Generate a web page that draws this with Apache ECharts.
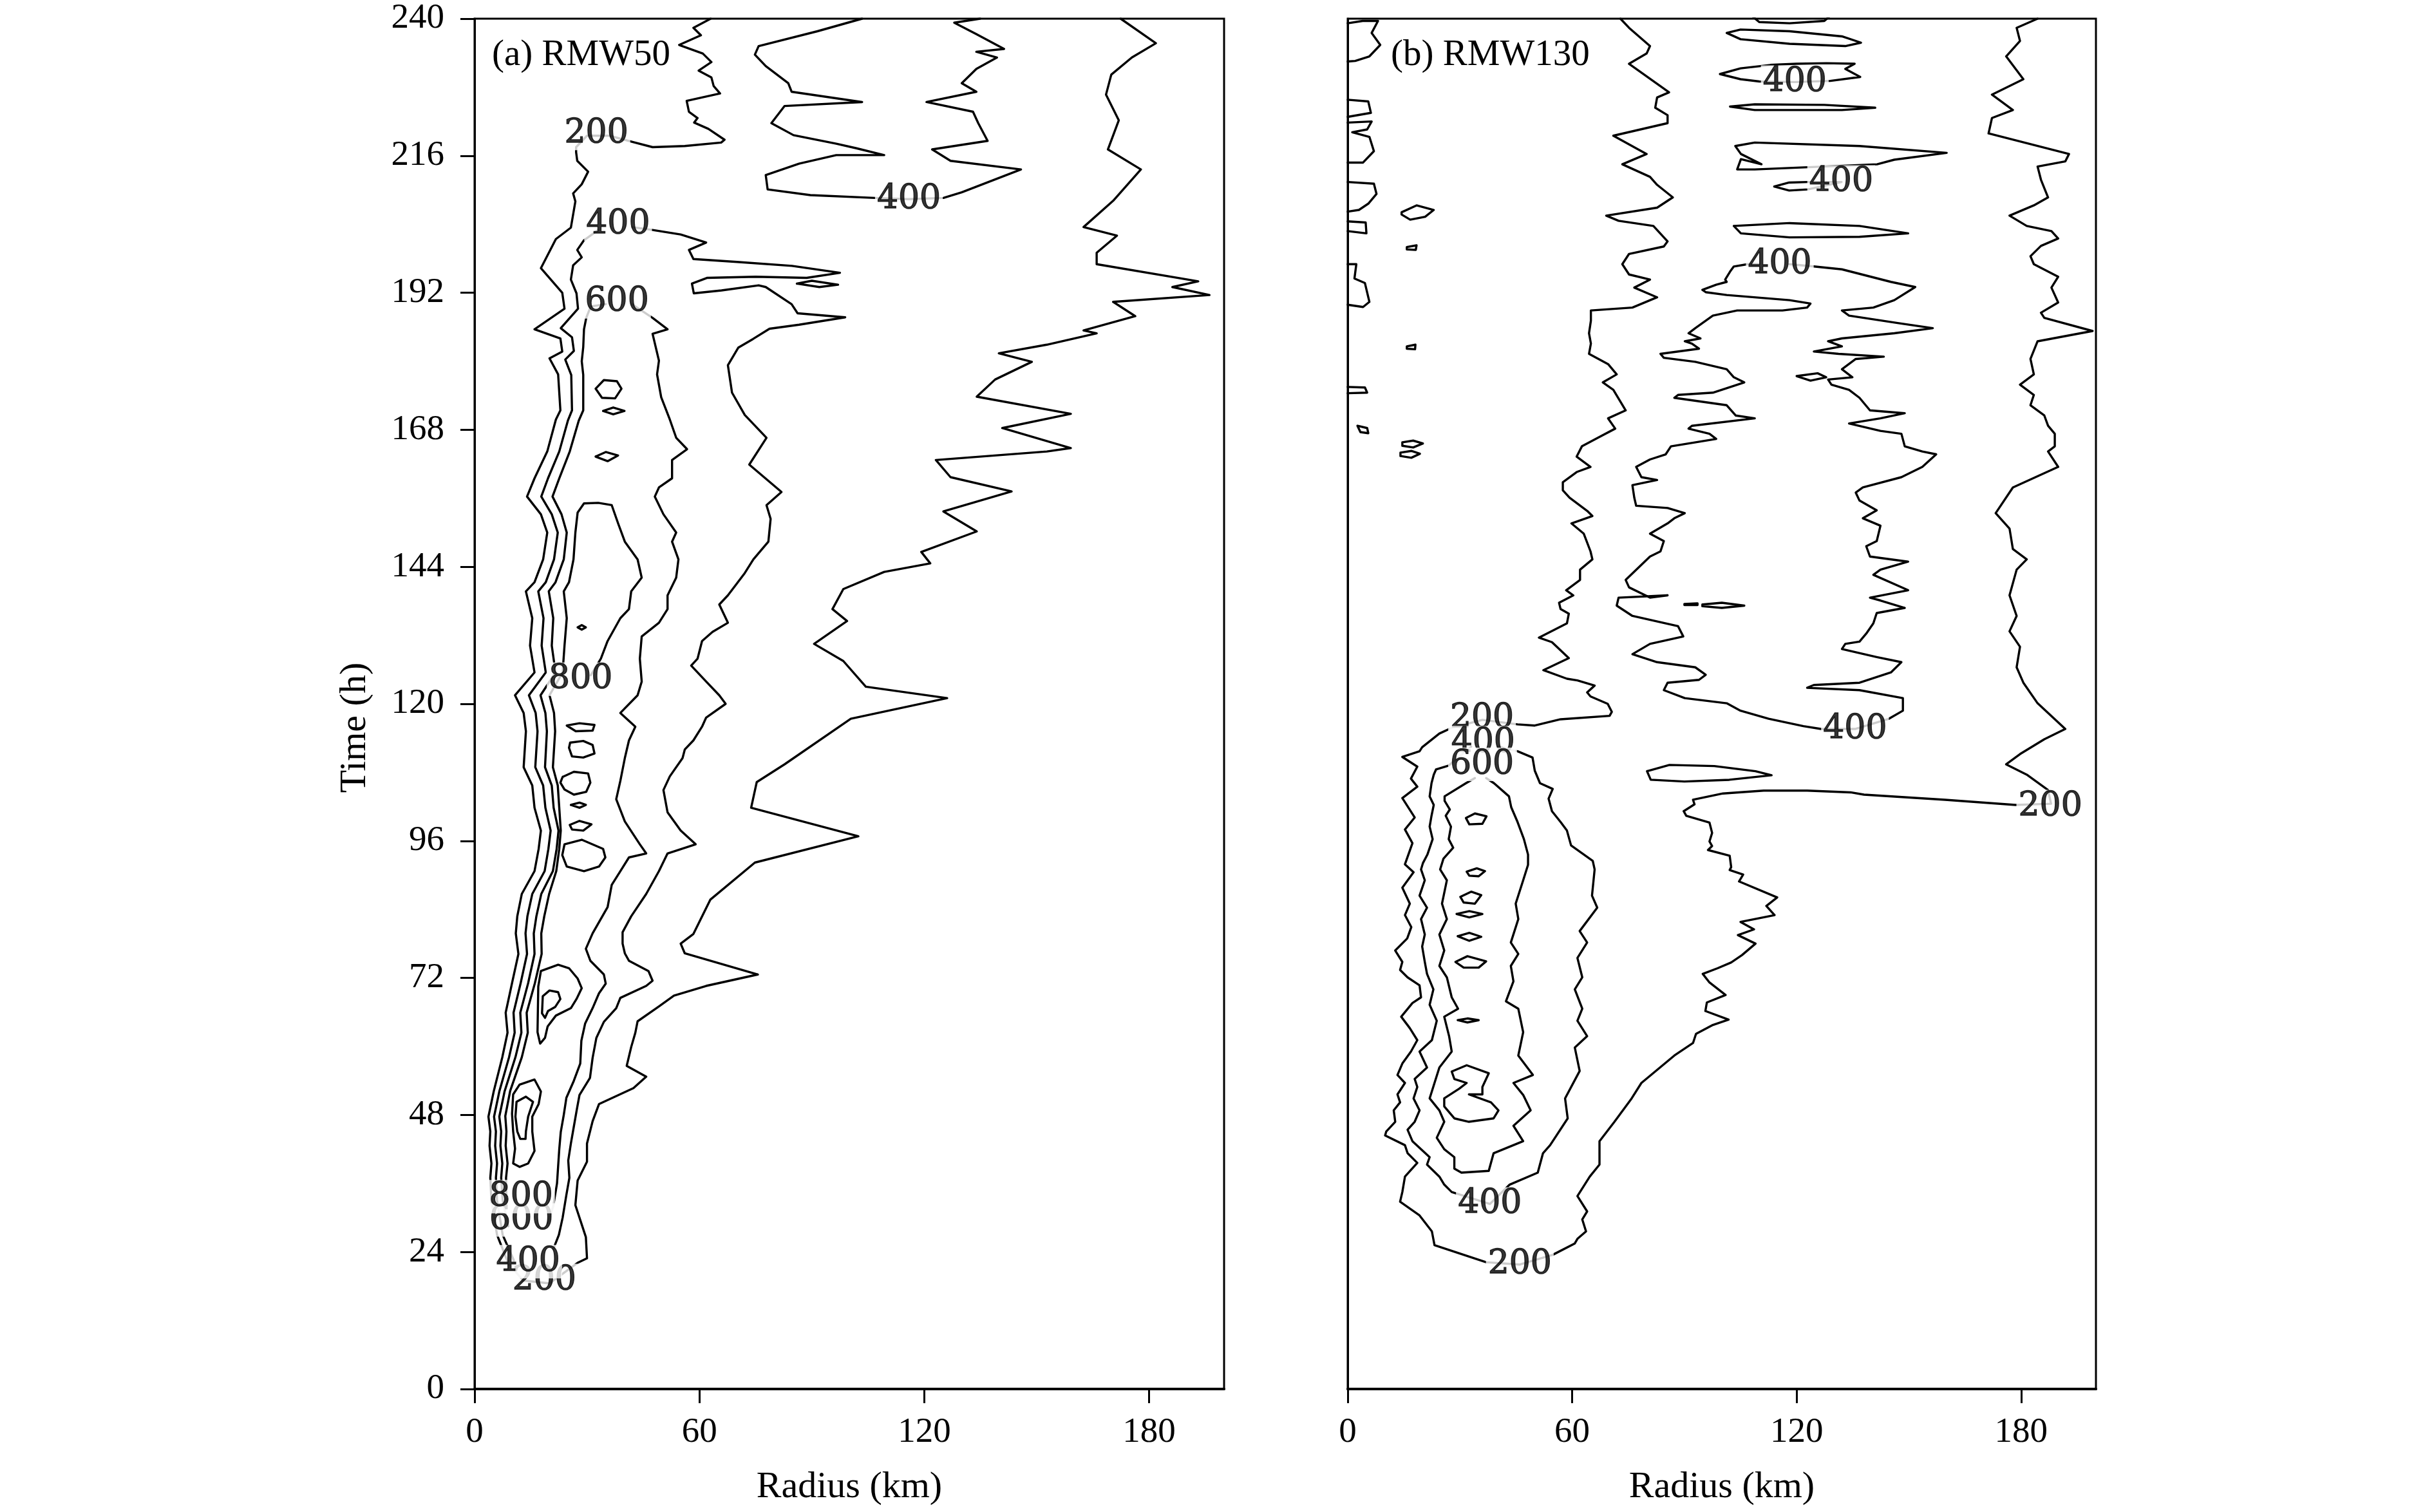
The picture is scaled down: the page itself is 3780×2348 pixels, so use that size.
<!DOCTYPE html>
<html><head><meta charset="utf-8">
<script src="https://cdn.jsdelivr.net/npm/echarts@6/dist/echarts.min.js"></script>
<style>html,body{margin:0;padding:0;background:#fff}#c{width:3780px;height:2348px}</style>
</head><body><div id="c"></div>
<script>
// ---- axes ----
const xTicks = [0, 60, 120, 180];
const yTicks = [0, 24, 48, 72, 96, 120, 144, 168, 192, 216, 240];

// ---- panel (a) RMW50 : contour lines, [radius km, time h] ----
const a200 = [[63.0,240],[58.4,238.4],[60.4,237.1],[54.6,235.4],[60.9,233.9],[63.2,232.4],[59.8,230.9],[63.2,229.7],[63.8,228.2],[65.5,226.9],[56.6,225.6],[57.2,223.7],[59.5,222.6],[58.6,221.8],[62.4,220.7],[66.7,218.8],[65.8,218.3],[56.1,217.7],[47.5,217.5],[42.3,218.4],[36,219.5],[30,219.5],[27.1,217.5],[27.1,216.6],[27.4,215.1],[30.3,213.2],[28.6,211.0],[26.3,209.4],[26.9,208.0],[25.7,203.4],[21.7,201.4],[17.7,196.3],[23.4,192.0],[24.0,189.2],[16.0,185.6],[22.9,184.0],[23.4,181.7],[20.0,180.5],[22.3,177.7],[22.9,171.4],[21.7,169.8],[19.4,164.2],[16.0,159.5],[14.0,156.3],[17.7,153.2],[19.4,150.0],[18.3,145.3],[16.0,141.3],[13.7,139.7],[15.4,135.0],[14.8,130.2],[16.0,125.5],[10.8,121.5],[13.1,118.4],[13.7,115.2],[13.1,108.9],[15.4,105.7],[16.0,101.8],[17.7,97.8],[17.1,94.6],[16.0,90.7],[12.6,86.7],[11.4,82.8],[11.0,79.8],[11.7,76.2],[10.0,71.1],[8.3,65.9],[8.8,62.4],[7.4,58.1],[5.1,52.1],[3.7,47.7],[4.2,45.1],[4.0,42.6],[4.5,39.5],[4.2,37.0],[4.5,33],[6,27],[9,22],[13,19],[20,18.5],[27.5,22.1],[30.0,22.9],[29.7,26.6],[26.9,32.2],[27.5,36.5],[30.0,39.8],[30.0,43.0],[31.5,46.9],[33.2,49.9],[42.4,52.7],[45.8,54.7],[40.6,56.6],[41.8,59.9],[42.9,62.4],[43.5,64.4],[49.2,67.0],[53.2,68.9],[61.8,70.6],[75.6,72.6],[56.1,76.3],[55.0,78.0],[58.4,79.7],[62.9,85.7],[74.8,92.2],[102.4,96.8],[73.8,101.8],[75.3,106.3],[82.7,109.4],[100.4,117.4],[126.1,121.0],[104.4,123.0],[98.4,127.5],[90.6,130.5],[99.4,134.5],[95.5,136.6],[98.4,140.1],[109.3,143.1],[121.6,144.6],[119.2,146.6],[134.0,150.2],[125.1,153.7],[143.3,157.2],[127.0,159.7],[123.1,162.7],[152.7,164.2],[159.1,164.8],[140.8,168.3],[159.1,170.8],[134.0,173.8],[138.9,176.8],[148.7,179.9],[139.9,181.4],[152.7,182.9],[166.0,184.9],[162.5,185.4],[176.3,187.9],[170.4,190.4],[196.1,191.6],[186.2,193.0],[193.1,194.0],[166.0,197.0],[166.0,199.0],[171.4,202.0],[162.5,203.5],[170.4,208.1],[177.8,213.6],[169.0,217.1],[171.9,222.2],[168.5,226.7],[169.9,230.2],[175.4,233.2],[181.8,235.7],[172.4,240]];
const a400Top = [[103.4,240],[91.5,237.8],[75.8,235.2],[74.8,233.7],[77.7,231.7],[83.7,228.7],[84.6,227.2],[103.4,225.4],[82.7,224.7],[79.2,221.7],[85.1,219.6],[96.5,218.1],[101.9,217.3],[109.3,216.1],[96.5,216.1],[86.6,214.6],[77.7,212.6],[78.2,210.1],[89.6,209.1],[106.8,208.6],[115.7,208.4],[125.1,208.6],[130.0,209.6],[145.8,213.6],[127.0,215.1],[122.1,217.1],[136.9,218.6],[134.4,221.7],[133.0,223.7],[120.6,225.4],[133.9,227.2],[130.0,228.7],[133.9,231.2],[139.4,233.2],[133.9,234.2],[141.3,234.7],[133.9,237.3],[128.0,239.3],[134.9,240]];
const a400Left = [[33,203],[29.2,201.2],[27.4,199.5],[28.6,198.2],[26.3,196.8],[25.7,194.3],[27.2,191.9],[27.6,189.2],[23.0,185.8],[26.0,184.2],[26.5,181.8],[24.2,180.3],[25.8,177.6],[26.0,171.4],[24.9,169.6],[22.6,164.2],[19.6,159.5],[17.8,156.3],[20.6,153.2],[22.2,150.0],[21.2,145.3],[19.0,141.3],[17.0,139.7],[18.4,135.0],[17.9,130.2],[19.0,125.5],[14.5,121.5],[16.3,118.4],[16.8,115.2],[16.2,108.9],[18.3,105.7],[18.9,101.8],[20.3,97.8],[19.7,94.6],[18.7,90.7],[15.4,86.7],[14.1,82.8],[13.6,79.8],[14.0,76.2],[12.3,71.1],[10.4,65.9],[10.7,62.4],[9.2,58.1],[6.6,52.1],[5.2,47.7],[5.7,45.1],[5.5,42.6],[6.0,39.5],[5.7,37.0],[6.0,33],[7.5,27],[10.5,22.5]];
const a400Right = [[42,203.5],[47.5,203.0],[55,202.2],[61.8,200.8],[57.2,199.5],[58.4,197.9],[70,197.4],[84.7,196.7],[97.5,195.5],[88.6,194.6],[75,194.8],[62,194.6],[58,193.6],[58.5,191.9],[65.9,192.4],[75.8,193.3],[77.7,193.0],[84.6,190.0],[86.2,188.4],[98.9,187.7],[86.6,186.4],[78.7,185.7],[74.3,183.9],[70.4,182.4],[67.6,179.3],[68.7,174.5],[72.1,170.6],[77.9,166.6],[73.3,161.9],[81.9,157.1],[77.9,154.8],[79.0,152.4],[78.4,148.4],[74.4,145.3],[72.1,142.9],[67.6,139.0],[65.3,137.4],[67.6,134.2],[63.5,132.6],[60.7,131.0],[59.5,127.9],[57.8,126.7],[61.8,123.9],[65.3,121.5],[67.0,120.0],[61.8,117.6],[60.7,116.0],[58.4,113.6],[56.1,112.0],[55.5,110.5],[52.1,107.3],[50.4,104.9],[51.5,101.0],[55.0,97.8],[59.0,95.4],[51.5,93.8],[49.2,90.7],[45.8,86.7],[41.8,82.8],[39.5,80],[39.5,78.0],[40.1,76.3],[41.2,75.0],[46.4,73.2],[47.5,71.5],[45.8,70.6],[38.9,68.5],[37.8,66.7],[34.5,64.3],[32.5,61.5],[31.5,58],[30.8,54.5],[28.0,51.5],[27.3,49],[26.5,46],[25.7,43],[25.0,40],[25.3,37],[24.5,34],[23.5,30],[22.5,27],[21,24.5]];
const a600Left = [[35,190],[31,189.6],[29.8,187.6],[29.2,185.6],[29.0,182.5],[28.6,180],[29.0,177.6],[29.0,171.4],[27.8,169.6],[25.4,164.2],[22.6,159.5],[20.8,156.3],[23.2,153.2],[24.6,150.0],[23.8,145.3],[21.6,141.3],[19.8,139.7],[21.0,135.0],[20.6,130.2],[21.6,125.5],[17.6,121.5],[18.9,118.4],[19.3,115.2],[18.8,108.9],[20.6,105.7],[21.1,101.8],[22.4,97.8],[21.9,94.6],[20.9,90.7],[17.8,86.7],[16.5,82.8],[15.8,79.8],[16.0,76.2],[14.3,71.1],[12.2,65.9],[12.5,62.4],[10.9,58.1],[8.0,52.1],[6.6,47.7],[7.1,45.1],[6.9,42.6],[7.4,39.5],[7.1,37.0],[7.5,33],[9,28.5]];
const a600Right = [[42,190],[47.5,187.6],[51.5,185.6],[47.5,184.8],[49.2,180.1],[48.7,177.7],[49.8,173.7],[52.1,169.8],[53.8,166.6],[56.7,164.6],[52.7,162.7],[52.7,159.5],[49.2,157.9],[48.1,156.3],[50.4,153.2],[53.8,150.0],[52.7,148.4],[54.4,145.3],[53.8,142.1],[51.5,139.0],[51.5,136.6],[49.2,134.2],[44.6,131.8],[44.1,127.9],[44.6,123.9],[43.5,121.5],[38.9,118.4],[42.9,116.0],[41.2,113.6],[40.1,110.5],[38.9,106.5],[37.8,103.3],[40.1,99.4],[44.1,95.4],[45.8,93.8],[41.2,93.1],[38.9,90.7],[36.6,88.3],[35.5,84.4],[31.5,79.8],[29.7,77.1],[30.9,75.0],[34.5,72.6],[35,71],[33.2,69.3],[31.5,66.7],[29.5,64],[28.5,61],[28.2,57],[26.5,54],[24.5,51],[23.8,48],[23,45],[22.6,42],[22.3,39],[22.0,36],[21,32],[19.5,29]];
const a800 = [[8.5,33],[8.4,37],[8.8,39.5],[8.3,42.6],[8.5,45.1],[8.2,47.8],[9.5,52.2],[12.6,58.1],[14.2,62.4],[13.9,65.9],[16.1,71.1],[17.9,76.2],[17.8,79.8],[18.6,82.8],[19.9,86.7],[21.8,90.7],[22.6,94.6],[23.0,97.8],[22.6,101.8],[22.2,105.7],[20.9,108.9],[21.5,115.2],[21.2,118.4],[20.0,121.5],[23.5,125.5],[24.0,130.2],[24.6,135.0],[23.8,139.7],[25.2,141.3],[26.4,145.3],[26.9,150.0],[27.5,153.5],[29.2,155.1],[33,155.2],[36.6,154.8],[38.3,151.6],[40.1,148.4],[43.5,145.3],[44.6,142.1],[41.8,139.7],[41.2,136.6],[38.9,135.0],[35.5,131.0],[33.7,127.9],[31,125]];
const aSmallLoops = [
  [[86,193.6],[90,194.1],[97,193.4],[92,193.0],[86,193.6]],
  [[32.3,175.2],[34.5,176.7],[38,176.5],[39.2,175.2],[37.5,173.5],[34,173.6],[32.3,175.2]],
  [[34.3,171.3],[37,171.9],[40,171.3],[37,170.7],[34.3,171.3]],
  [[32.3,163.3],[35,164.1],[38.3,163.5],[35.5,162.5],[32.3,163.3]],
  [[27.5,133.4],[28.6,133.8],[29.7,133.4],[28.6,133.0],[27.5,133.4]],
  [[24.6,116.2],[28,116.6],[32,116.3],[31.5,115.3],[27,115.2],[24.6,116.2]],
  [[25.5,113.2],[29,113.5],[31.5,112.8],[32,111.3],[29,110.6],[26,110.8],[25.2,112.3],[25.5,113.2]],
  [[23.5,107.2],[26.5,108.1],[30.3,107.8],[30.9,106.2],[29.8,104.6],[26.5,104.1],[24,105],[22.9,106.2],[23.5,107.2]],
  [[25.7,102.3],[28,102.7],[29.7,102.3],[28,101.8],[25.7,102.3]],
  [[25.4,98.8],[28,99.5],[31.2,98.9],[29,97.8],[26,98],[25.4,98.8]],
  [[24.0,95.4],[28.6,96.2],[34.3,94.6],[34.9,93.1],[33.2,91.5],[29.2,90.7],[24.6,91.5],[23.4,93.5],[24.0,95.4]],
  [[17.7,73.2],[22.3,74.3],[25.2,73.7],[27.5,71.9],[28.6,70.2],[27.2,68.3],[25.7,66.7],[21.7,65.4],[19.5,63.5],[18.8,61.5],[17.5,60.5],[16.8,62.5],[16.9,66.5],[17.0,70.5],[17.7,73.2]],
  [[18.2,68.8],[20,69.8],[22.3,69.5],[22.9,68.3],[21.5,66.9],[19.6,66.2],[18.8,65],[18.0,65.8],[18.2,68.8]],
  [[10.3,51.6],[12.0,53.3],[16.0,54.2],[17.7,52.1],[17.1,49.9],[15.4,47.7],[15.4,45.1],[16.0,41.7],[14.3,39.5],[12.0,38.9],[10.3,39.5],[10.8,42.1],[10.3,45.1],[10.0,48.2],[10.3,51.6]],
  [[11.2,50.3],[13.7,51.2],[15.6,50.3],[14.3,47.7],[13.7,45.1],[13.6,43.8],[12.2,43.8],[11.4,45.1],[10.9,47.7],[11.2,50.3]]
];
const aLabels = [[32.5,219.9,'200'],[38.3,204.0,'400'],[38.0,190.4,'600'],[115.9,208.4,'400'],[28.3,124.3,'800'],[18.6,19.0,'200'],[12.5,29.6,'600'],[14.3,22.3,'400'],[12.4,33.7,'800']];

// ---- panel (b) RMW130 ----
const b200 = [[184.4,240],[178.8,238.4],[179.7,236.1],[176.0,233.4],[180.6,229.4],[172.2,226.7],[177.8,224.0],[172.2,222.6],[171.3,219.9],[192.8,216.3],[191.8,215.0],[184.4,214.1],[185.3,211.8],[187.2,208.7],[183.4,207.3],[176.9,205.5],[181.5,203.7],[188.1,202.8],[189.9,201.5],[185.3,200.2],[182.5,198.4],[183.4,197.0],[189.9,194.8],[188.1,192.9],[189.9,190.3],[185.3,188.5],[186.2,187.6],[199.1,185.3],[184.4,183.5],[182.5,180.4],[183.4,177.7],[179.7,175.9],[183.4,174.1],[182.5,172.3],[186.2,170.5],[187.2,168.7],[189.0,167.3],[189.0,165.1],[187.2,164.2],[189.9,161.5],[177.8,157.9],[173.2,153.4],[176.9,150.7],[177.8,147.1],[181.5,145.3],[178.8,143.5],[176.9,139.0],[178.8,135.4],[176.9,132.7],[179.7,130.0],[178.8,126.4],[180.6,123.7],[184.4,120.1],[191.8,115.6],[186.2,113.8],[179.7,111.2],[176.0,109.4],[181.5,107.6],[187.2,104.9],[188,102.5],[178.5,102.3],[159.7,103.2],[138.0,104.1],[134.4,104.5],[122.8,104.8],[111.2,104.8],[100.3,104.3],[92.3,103.2],[92.7,102.4],[89.8,101.2],[90.5,100.4],[96.7,99.2],[97.4,97.4],[96.7,95.9],[97.4,95.1],[96.3,94.4],[102.1,93.4],[102.5,91.4],[102.1,90.9],[105.7,90.1],[104.6,88.9],[114.8,86.1],[111.9,84.6],[114.1,83.0],[105.0,81.8],[108.6,80.5],[104.3,79.5],[109.0,78.0],[105.4,76.0],[102.5,74.7],[98.9,73.7],[94.9,72.7],[96.7,71.2],[101.0,69.0],[96.0,67.7],[95.6,66.2],[101.8,64.7],[97.4,63.7],[93.1,62.2],[92.3,60.6],[87.3,58.4],[78.5,53.6],[75.9,50.9],[71.3,46.8],[67.3,43.4],[67.3,39.3],[64.7,37.2],[61.4,33.8],[64.0,31.1],[62.7,29.7],[63.7,27.6],[61.4,26.3],[60.7,25.5],[54.8,23.5],[46,21.8],[37.0,22.2],[23.2,25.2],[22.5,27.6],[19.2,30.4],[14.0,32.8],[14.6,34.5],[15.3,37.2],[18.6,39.6],[16.0,41.3],[15.3,42.7],[10.0,44.4],[10.3,45.1],[12.7,46.8],[12.3,48.8],[14.0,50.2],[13.3,51.6],[15.3,53.6],[13.3,55.0],[14.6,57.0],[16.9,59.1],[18.6,61.1],[16.6,63.2],[14.3,65.2],[17.3,67.6],[19.6,68.6],[19.2,70.7],[16.0,72.1],[14.0,73.4],[14.6,74.8],[12.7,76.8],[15.9,78.9],[17.0,80.9],[15.3,83.0],[16.6,85.0],[14.6,87.8],[17.6,90.5],[15.3,91.9],[17.3,95.6],[15.3,98.0],[17.9,100.1],[14.6,103.5],[18.6,105.5],[16.9,106.9],[18.6,109.0],[14.6,110.7],[19.2,111.7],[19.9,112.4],[24.5,114.8],[27.8,115.8],[36,117.2],[45.4,116.4],[50.0,116.2],[56.9,117.3],[70.0,117.9],[70.6,118.6],[69.5,120.0],[64.9,121.3],[64.0,122.0],[66.0,123.2],[61.4,124.1],[58.6,124.4],[52.3,125.9],[59.1,128.0],[54.6,130.8],[51.1,131.6],[58.6,134.1],[59.1,135.8],[56.9,136.6],[56.5,137.7],[60.3,139.0],[58.4,139.9],[62.1,141.7],[62.1,143.5],[65.4,145.3],[64.9,146.7],[63.1,149.8],[59.8,151.6],[65.4,152.9],[64.0,153.8],[59.3,156.1],[57.5,157.4],[57.5,158.8],[61.2,160.6],[64.9,161.5],[61.2,163.3],[62.6,165.1],[67.7,166.9],[71.5,168.2],[69.6,170.0],[74.3,171.4],[71.0,175.0],[68.2,176.3],[71.9,177.7],[69.6,179.5],[64.5,181.3],[65.0,183.1],[64.5,184.9],[65.0,187.1],[65.0,188.9],[76.1,189.4],[82.7,191.2],[76.6,192.9],[80.8,194.3],[75.2,195.2],[73.4,197.0],[75.2,198.8],[84.5,200.1],[85.5,201.0],[81.7,203.7],[72.4,204.6],[69.1,205.5],[82.7,206.9],[86.9,208.7],[82.7,210.9],[80.8,212.3],[73.4,214.5],[79.9,216.3],[71.0,219.5],[85.5,221.7],[85.5,223.1],[82.2,224.4],[82.7,226.2],[85.9,227.1],[75.2,232.1],[79.9,233.9],[80.8,235.2],[75.2,238.4],[72.9,240]];
const b400Core = [[33,112.5],[27.0,109.2],[23.6,108.5],[23.0,107.6],[22.4,106.1],[21.9,103.8],[23.0,102.3],[22.4,100.4],[21.9,98.5],[22.7,96.3],[21.3,93.6],[20.1,92.1],[19.6,91.0],[20.6,89.1],[19.2,86.4],[21.2,84.3],[19.6,82.3],[20.6,79.6],[19.9,77.5],[20.6,74.8],[21.2,72.7],[22.9,70.0],[21.9,67.3],[23.8,64.5],[22.5,61.1],[19.2,59.1],[21.2,56.3],[17.9,54.3],[18.6,52.9],[17.6,50.9],[19.2,48.8],[17.9,46.8],[16.0,45.4],[17.3,43.4],[21.9,40.6],[21.2,39.3],[24.5,37.2],[25.8,35.8],[27.8,34.5],[38,32.4],[43.3,35.8],[50.8,37.9],[52.2,41.3],[54.1,42.7],[58.8,47.4],[58.1,50.9],[62.0,55.7],[60.7,59.8],[64.0,61.8],[61.4,64.5],[62.7,66.6],[60.7,70.0],[62.7,72.1],[61.4,75.5],[64.0,78.2],[62.0,80.2],[66.7,84.3],[65.3,86.4],[66.0,91.0],[65.5,92.5],[59.7,95.2],[58.6,97.8],[56.9,99.3],[54.6,101.2],[53.7,103.4],[54.8,105.1],[51.4,106.1],[50.0,108.3],[49.4,110.6],[45.4,111.7],[40,112.5]];
const b600Core = [[34,107],[31.6,106.1],[25.9,103.8],[25.9,103.0],[27.3,101.5],[26.2,100.4],[27.6,98.5],[27.0,96.3],[28.2,94.8],[25.6,92.9],[24.7,91.0],[26.5,89.1],[25.2,85.0],[26.5,82.3],[24.5,79.6],[25.8,76.8],[24.5,74.1],[26.5,72.1],[27.8,68.6],[29.5,66.6],[25.8,65.2],[27.1,61.8],[27.8,59.1],[24.5,56.3],[23.2,53.6],[21.9,50.9],[24.5,48.8],[25.8,46.8],[23.8,44.0],[25.8,42.0],[28.5,40.6],[28.5,38.6],[30.4,37.9],[37.7,38.2],[39.0,41.3],[46.9,43.4],[44.3,46.1],[48.9,48.8],[46.9,51.5],[44.3,53.6],[49.5,55.0],[45.6,58.4],[46.9,62.5],[45.6,66.6],[42.3,67.9],[44.3,71.4],[43.6,74.1],[45.6,76.2],[43.6,78.2],[45.6,82.3],[44.9,85.0],[46.9,89.1],[48.2,91.8],[48.2,93.6],[47.1,96.3],[45.4,99.3],[43.7,101.9],[43.1,103.8],[39.1,106.1],[37,107]];
const b400Inner = [[110,197],[106.9,197.0],[103.2,196.6],[102.2,195.7],[100.9,194.3],[101.3,193.9],[98.5,193.4],[94.8,192.5],[95.7,192.1],[101.3,191.6],[118.1,190.7],[123.7,190.1],[122.8,189.4],[116.2,188.9],[104.1,188.9],[97.6,188.0],[92.9,185.8],[91.1,184.9],[94.3,184.0],[90.1,183.5],[92.0,183.1],[93.9,182.2],[83.6,181.3],[84.5,180.6],[92.9,179.9],[101.3,178.6],[103.2,177.2],[106.0,176.3],[97.6,174.5],[88.3,174.1],[87.3,173.6],[101.3,172.3],[103.7,170.5],[108.8,170.0],[92.0,168.7],[91.1,168.2],[96.7,167.3],[98.5,166.4],[86.4,165.1],[85.0,163.7],[80.8,162.8],[77.1,161.5],[78.5,159.7],[82.7,159.2],[76.1,158.3],[76.6,156.1],[77.1,154.7],[85.5,154.3],[90.1,153.4],[87.3,152.5],[85.5,151.6],[80.8,149.8],[84.5,148.5],[83.6,146.7],[80.8,145.8],[74.3,141.7],[75.2,140.4],[80.8,138.6],[85.5,139.0],[72.4,138.6],[71.9,137.2],[76.1,135.4],[88.3,133.6],[89.7,131.8],[80.8,130.5],[76.1,128.7],[82.7,127.3],[92.9,126.4],[95.7,125.1],[93.9,124.2],[85.5,123.7],[84.5,122.4],[90.1,121.0],[101.3,120.1],[105.0,118.8],[112.5,117.4],[121.8,116.1],[126.5,115.6],[135.6,115.6],[144.7,117.4],[148.4,118.8],[148.4,121.0],[136.8,122.4],[122.8,122.8],[124.6,123.3],[136.8,123.7],[145.2,125.5],[148.0,127.3],[141.4,128.2],[132.1,129.6],[133.0,130.5],[136.8,130.9],[138.6,132.3],[140.5,134.1],[141.4,135.9],[148.9,136.8],[142.4,138.1],[139.6,138.6],[149.8,139.9],[140.5,142.6],[142.4,143.5],[149.8,144.9],[139.6,145.8],[138.6,147.6],[141.4,148.5],[142.4,151.2],[137.7,152.5],[141.4,153.9],[136.8,155.6],[135.8,157.0],[137.7,157.9],[148.0,159.7],[153.6,161.5],[157.3,163.7],[153.6,164.2],[148.9,165.1],[148.0,167.3],[142.4,167.8],[134.0,169.1],[142.4,170.0],[148.9,170.9],[139.6,171.4],[136.8,173.6],[134.0,175.0],[129.3,175.9],[128.4,176.8],[134.9,177.2],[132.1,178.6],[135.8,180.4],[143.3,180.8],[131.2,181.3],[124.6,181.7],[132.1,182.6],[128.4,183.5],[132.1,184.0],[146.1,184.9],[156.4,185.8],[147.0,186.7],[134.0,188.0],[132.1,188.9],[140.5,189.4],[146.1,190.7],[151.7,193.0],[145.2,193.9],[132.1,196.1],[124.6,196.6],[118,197]];
const bBands = [
  [[108,240.5],[110,239.4],[118.1,239.2],[127.4,239.6],[129,240.5]],
  [[101.3,237.5],[105.0,238.1],[118.1,237.8],[132.1,236.9],[137.2,235.8],[133.0,235.2],[118.1,235.6],[105.0,236.4],[101.3,237.5]],
  [[99.5,230.3],[105,231.3],[113,231.9],[120,232.1],[128,232.2],[135.5,232.1],[133,231.2],[137,229.8],[129,229.1],[119.5,228.9],[110,229.0],[105,229.4],[99.5,230.3]],
  [[102.2,224.6],[108.8,225.0],[127.4,224.9],[141.0,224.4],[132.1,224.0],[108.8,224.0],[102.2,224.6]],
  [[103.6,217.7],[108.8,218.3],[136.8,217.7],[160.1,216.5],[146.1,215.3],[141.5,214.5],[108.8,213.6],[104.1,213.6],[105.1,215.4],[110.6,214.5],[105.1,216.3],[103.6,217.7]],
  [[114,210.6],[118,211.3],[123,211.4],[132,211.4],[123,210.1],[118,209.9],[114,210.6]],
  [[103.2,203.7],[118.1,204.2],[136.8,203.7],[149.8,202.4],[136.8,201.8],[118.1,201.7],[105.1,202.4],[103.2,203.7]],
  [[120.0,177.4],[125.6,177.9],[127.9,177.2],[123.7,176.6],[120.0,177.4]],
  [[94.8,137.4],[100,137.7],[106,137.2],[100,136.8],[94.8,137.1],[94.8,137.4]],
  [[90,137.5],[93.5,137.6],[93.5,137.3],[90,137.3],[90,137.5]],
  [[80,108.2],[86,109.3],[98,109.1],[109,108.2],[113.3,107.5],[102,106.7],[90,106.4],[81,106.7],[80,108.2]]
];
const bEdgeShapes = [
  [[0,239.2],[4,239.6],[8.1,239.6],[6.4,237.5],[8.7,235.4],[5.8,233.4],[2,232.6],[0,232.5]],
  [[0,225.8],[5.5,225.5],[6.2,223.5],[0,222.8]],
  [[0,221.8],[6.4,222.0],[5.2,220.6],[1.2,220.1],[5.8,219.3],[7.0,216.8],[4.1,214.8],[0,214.8]],
  [[0,211.4],[7.0,211.1],[7.7,209.3],[5.5,207.6],[3.0,206.5],[0,206.2]],
  [[0,204.5],[4.8,204.3],[5.0,202.4],[0,202.8]],
  [[0,197.0],[2.3,197.0],[1.8,194.5],[4.6,193.7],[5.8,190.4],[4.1,189.5],[0,189.9]],
  [[0,175.5],[4.6,175.4],[5.2,174.5],[0,174.4]],
  [[2.6,168.7],[5.2,168.3],[5.5,167.4],[3.4,167.6],[2.6,168.7]],
  [[14.4,206.1],[18.4,207.3],[23.0,206.5],[20.7,205.3],[16.7,204.8],[14.4,205.7],[14.4,206.1]],
  [[15.8,200.0],[18.4,200.3],[18.2,199.5],[15.8,199.6],[15.8,200.0]],
  [[15.8,182.6],[18.1,182.9],[18.0,182.1],[15.8,182.2],[15.8,182.6]],
  [[14.6,165.8],[17.5,166.1],[20.1,165.6],[17.5,164.9],[14.6,165.2],[14.6,165.8]],
  [[14.1,164.0],[17,164.3],[19.3,163.8],[17,163.1],[14.1,163.4],[14.1,164.0]]
];
const bCoreLoops = [
  [[31.6,100.0],[34,100.8],[37.1,100.3],[36,99.0],[32.5,98.9],[31.6,100.0]],
  [[31.8,90.6],[34.5,91.2],[36.7,90.7],[35,89.8],[32.5,89.9],[31.8,90.6]],
  [[30.1,86.2],[33,87.1],[35.7,86.5],[34,85.0],[31,85.2],[30.1,86.2]],
  [[29.1,83.2],[32.5,83.7],[36.0,83.2],[32.5,82.6],[29.1,83.2]],
  [[29.4,79.3],[32.5,79.9],[35.7,79.2],[32.5,78.5],[29.4,79.3]],
  [[28.8,74.8],[32,75.8],[37.0,74.9],[35,73.8],[31,73.8],[28.8,74.8]],
  [[29.4,64.6],[32,64.9],[35.0,64.6],[32,64.2],[29.4,64.6]],
  [[27.8,55.6],[31.8,56.7],[37.7,55.3],[36.0,52.9],[36.0,51.6],[32.4,51.6],[38.3,50.2],[40.3,48.8],[39.0,47.4],[32.4,46.8],[28.5,47.4],[25.8,49.5],[25.8,50.9],[29.8,52.6],[31.8,53.6],[28.5,54.3],[27.8,55.6]]
];
const bLabels = [[119.5,228.9,'400'],[131.9,211.4,'400'],[115.5,197.0,'400'],[135.6,115.6,'400'],[187.8,102.0,'200'],[35.9,117.5,'200'],[36.2,113.2,'400'],[35.9,109.4,'600'],[38.0,32.4,'400'],[46.0,21.8,'200']];

const aContours = [a200, a400Top, a400Left, a400Right, a600Left, a600Right, a800].concat(aSmallLoops);
const bContours = [b200, b400Core, b600Core, b400Inner].concat(bBands, bEdgeShapes, bCoreLoops);

// ---- build chart ----
const SERIF = 'Liberation Serif';
const chart = echarts.init(document.getElementById('c'), null, {renderer: 'canvas', width: 3780, height: 2348});
const lineSeries = (d, gi) => ({type: 'line', xAxisIndex: gi, yAxisIndex: gi, data: d, symbol: 'none', showSymbol: false, silent: true, animation: false, clip: true, z: 2, lineStyle: {color: '#000', width: 3.4, join: 'round', cap: 'round'}});
const labelSeries = (labs, gi) => ({
  type: 'scatter', xAxisIndex: gi, yAxisIndex: gi, symbolSize: 1, silent: true, animation: false, z: 10,
  itemStyle: {color: 'rgba(0,0,0,0)'},
  data: labs.map(l => ({value: [l[0], l[1]], name: l[2]})),
  label: {show: true, position: 'inside', formatter: '{b}', fontFamily: 'DejaVu Serif', fontSize: 52, color: '#000',
          textBorderColor: '#000', textBorderWidth: 1.3, backgroundColor: '#fff', padding: [0, 3]},
  labelLayout: {hideOverlap: false}
});
const xAxisOf = gi => ({
  type: 'value', gridIndex: gi, min: 0, max: 200, interval: 60,
  axisLine: {show: true, onZero: false, lineStyle: {color: '#000', width: 4}},
  axisTick: {show: true, inside: false, length: 22, customValues: xTicks, lineStyle: {color: '#000', width: 3}},
  axisLabel: {show: true, customValues: xTicks, margin: 40, fontSize: 55, fontFamily: SERIF, color: '#000'},
  splitLine: {show: false},
  name: 'Radius (km)', nameLocation: 'middle', nameGap: 124,
  nameTextStyle: {fontSize: 58, fontFamily: SERIF, color: '#000'}
});
const yAxisOf = gi => ({
  type: 'value', gridIndex: gi, min: 0, max: 240, interval: 24,
  axisLine: {show: true, onZero: false, lineStyle: {color: '#000', width: 3}},
  axisTick: {show: gi === 0, inside: false, length: 22, customValues: yTicks, lineStyle: {color: '#000', width: 3}},
  axisLabel: {show: gi === 0, customValues: yTicks, margin: 47, fontSize: 55, fontFamily: SERIF, color: '#000'},
  splitLine: {show: false}
});

const series = [];
aContours.forEach(d => series.push(lineSeries(d, 0)));
bContours.forEach(d => series.push(lineSeries(d, 1)));
series.push(labelSeries(aLabels, 0));
series.push(labelSeries(bLabels, 1));

chart.setOption({
  backgroundColor: '#fff',
  animation: false,
  grid: [
    {left: 737, top: 29, width: 1164, height: 2128, show: true, borderColor: '#000', borderWidth: 3, backgroundColor: 'rgba(0,0,0,0)'},
    {left: 2093, top: 29, width: 1162, height: 2128, show: true, borderColor: '#000', borderWidth: 3, backgroundColor: 'rgba(0,0,0,0)'}
  ],
  xAxis: [xAxisOf(0), xAxisOf(1)],
  yAxis: [yAxisOf(0), yAxisOf(1)],
  graphic: [
    {type: 'text', x: 764, y: 86, z: 20, style: {text: '(a) RMW50', fontSize: 57, fontFamily: SERIF, fill: '#000', align: 'left', verticalAlign: 'middle'}},
    {type: 'text', x: 2160, y: 86, z: 20, style: {text: '(b) RMW130', fontSize: 57, fontFamily: SERIF, fill: '#000', align: 'left', verticalAlign: 'middle'}},
    {type: 'text', x: 552, y: 1130, rotation: Math.PI / 2, z: 20, style: {text: 'Time (h)', fontSize: 58, fontFamily: SERIF, fill: '#000', align: 'center', verticalAlign: 'middle'}}
  ],
  series: series
});
</script>
</body></html>
